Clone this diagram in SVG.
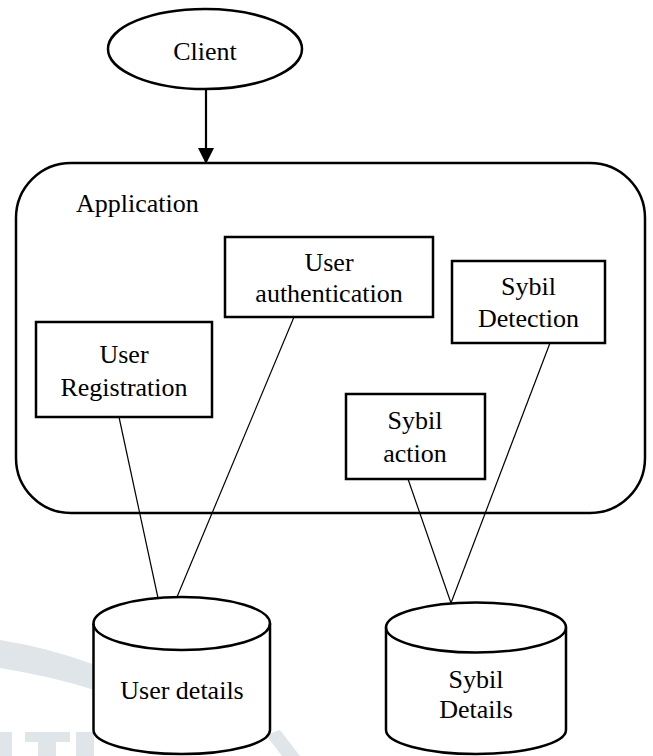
<svg xmlns="http://www.w3.org/2000/svg" width="653" height="756" viewBox="0 0 653 756">
<defs>
<style>
text{font-family:'Liberation Serif','Times New Roman',serif;font-size:26px;fill:#000}
.t{text-anchor:middle}
.box{fill:#fff;stroke:#000;stroke-width:2.5}
.ln{fill:none;stroke:#000;stroke-width:1.2}
.wm{fill:#dfe5e8;stroke:none}
</style>
<marker id="ah" markerWidth="16" markerHeight="16" viewBox="0 0 16 16" refX="15" refY="8" orient="auto" markerUnits="userSpaceOnUse">
<path d="M0,0 L16,8 L0,16 Z" fill="#000"/>
</marker>
</defs>
<rect width="653" height="756" fill="#fff"/>
<g id="watermark">
<path class="wm" d="M0,640 Q50,648 95,665 L95,690 Q50,676 0,668 Z"/>
<rect class="wm" x="0" y="732" width="12" height="24"/>
<rect class="wm" x="25" y="732" width="45" height="10"/>
<rect class="wm" x="38" y="732" width="18" height="24"/>
<rect class="wm" x="76" y="732" width="18" height="24"/>
<path class="wm" d="M266,735 L280,730 L300,756 L282,756 Z"/>
</g>
<g id="application">
<rect class="box" x="16" y="163" width="629" height="350" rx="55" ry="55"/>
<text x="76" y="212">Application</text>
</g>
<g id="client">
<ellipse class="box" cx="205" cy="49" rx="97" ry="40"/>
<text class="t" x="205" y="60">Client</text>
</g>
<g id="user-registration">
<rect class="box" x="36" y="322" width="176" height="95"/>
<text class="t" x="124" y="363">User</text>
<text class="t" x="124" y="396">Registration</text>
</g>
<g id="user-authentication">
<rect class="box" x="225" y="237" width="208" height="80"/>
<text class="t" x="329" y="271">User</text>
<text class="t" x="329" y="302">authentication</text>
</g>
<g id="sybil-detection">
<rect class="box" x="452" y="261" width="153" height="82"/>
<text class="t" x="528.5" y="295">Sybil</text>
<text class="t" x="528.5" y="327">Detection</text>
</g>
<g id="sybil-action">
<rect class="box" x="346" y="394" width="139" height="85"/>
<text class="t" x="415" y="429">Sybil</text>
<text class="t" x="415" y="462">action</text>
</g>
<g id="connectors">
<line x1="206" y1="89" x2="206" y2="163" stroke="#000" stroke-width="2.2" marker-end="url(#ah)"/>
<line class="ln" x1="119" y1="417" x2="158" y2="598"/>
<line class="ln" x1="294" y1="317" x2="177" y2="597"/>
<line class="ln" x1="408" y1="479" x2="451" y2="603"/>
<line class="ln" x1="550" y1="343" x2="451" y2="603"/>
</g>
<g id="user-details">
<path class="box" d="M93.5,623.5 L93.5,730 A88.25,24 0 0 0 270,730 L270,623.5 A88.25,26.5 0 0 0 93.5,623.5 Z"/>
<path class="box" style="fill:none" d="M93.5,623.5 A88.25,26.5 0 0 0 270,623.5"/>
<text class="t" x="182" y="699">User details</text>
</g>
<g id="sybil-details">
<path class="box" d="M386,627.5 L386,730 A90,24 0 0 0 566,730 L566,627.5 A90,25 0 0 0 386,627.5 Z"/>
<path class="box" style="fill:none" d="M386,627.5 A90,25 0 0 0 566,627.5"/>
<text class="t" x="476" y="688">Sybil</text>
<text class="t" x="476" y="718">Details</text>
</g>
</svg>
